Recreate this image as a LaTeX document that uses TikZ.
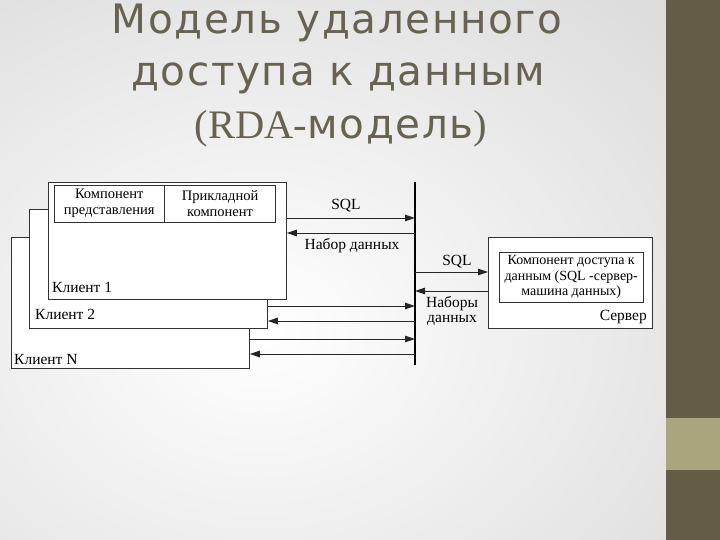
\documentclass[tikz,border=0pt]{standalone}
\usepackage{fontspec}
\setmainfont{Liberation Serif}
\newfontfamily\titlefont[LetterSpace=4]{DejaVu Sans}
\usetikzlibrary{arrows.meta, positioning}
\definecolor{titlegray}{RGB}{104,98,80}
\definecolor{bardark}{RGB}{99,93,72}
\definecolor{barlight}{RGB}{168,166,126}
\definecolor{bggray}{RGB}{212,212,212}
\tikzset{
  client/.style={rectangle, draw=black!80, fill=white, anchor=north west,
    inner sep=0pt, line width=0.8pt},
  cell/.style={rectangle, draw=black!80, fill=white, anchor=north west,
    inner sep=0pt, align=center, font=\fontsize{14.5}{16}\selectfont},
  boxtext/.style={inner sep=0pt, font=\fontsize{15.5}{16}\selectfont},
  titletext/.style={inner sep=0pt, text=titlegray, anchor=base,
    font=\titlefont\fontsize{40.5}{52}\selectfont},
  arrowline/.style={-{Triangle[length=10pt,width=6.5pt]}, draw=black!85, line width=0.9pt}
}
\begin{document}
\begin{tikzpicture}[x=1pt, y=-1pt]
  % slide background and side bar
  \useasboundingbox (0,0) rectangle (720,540);
  \begin{scope}
    \clip (0,0) rectangle (720,540);
    \shade[inner color=white, outer color=bggray] (-440,-220) rectangle (960,880);
  \end{scope}
  \fill[bardark] (666,0) rectangle (720,540);
  \fill[barlight] (666,418) rectangle (720,470);

  % title
  \node[titletext] (title1) at (337,34) {Модель удаленного};
  \node[titletext] (title2) at (338,86) {доступа к данным};
  \node[titletext] (title3) at (341,139) {{\rmfamily(RDA-}модель{\rmfamily)}};

  % clients, back to front
  \node[client, minimum width=238pt, minimum height=131pt] (clientN) at (11,237) {};
  \node[client, minimum width=238pt, minimum height=119pt] (client2) at (29,209) {};
  \node[client, minimum width=238pt, minimum height=117pt] (client1) at (48,182) {};
  \node[cell, minimum width=110pt, minimum height=37pt] (present) at (54,185) {Компонент\\представления};
  \node[cell, minimum width=111pt, minimum height=37pt, right=0pt of present] (applied) {Прикладной\\компонент};
  \node[boxtext, anchor=base west] (lbl1) at (52,292) {Клиент 1};
  \node[boxtext, anchor=base west] (lbl2) at (35,319) {Клиент 2};
  \node[boxtext, anchor=base west] (lblN) at (14,364) {Клиент N};

  % network line
  \coordinate (bustop) at (415,182);
  \coordinate (busbot) at (415,365);
  \draw[line width=1.6pt] (bustop) -- (busbot);

  % server
  \node[client, minimum width=164pt, minimum height=91pt] (server) at (488,237) {};
  \node[cell, minimum width=144pt, minimum height=50pt, font=\fontsize{14}{15.5}\selectfont] (access) at (499,252) {Компонент доступа к\\данным (SQL -сервер-\\машина данных)};
  \node[boxtext, anchor=base east] (srvlbl) at (647,320) {Сервер};

  % requests and replies
  \draw[arrowline] (client1.east |- 0,218) -- (bustop |- 0,218);
  \draw[arrowline] (bustop |- 0,233) -- (client1.east |- 0,233);
  \draw[arrowline] (client2.east |- 0,306) -- (bustop |- 0,306);
  \draw[arrowline] (bustop |- 0,321) -- (client2.east |- 0,321);
  \draw[arrowline] (clientN.east |- 0,339) -- (bustop |- 0,339);
  \draw[arrowline] (bustop |- 0,354) -- (clientN.east |- 0,354);
  \draw[arrowline] (bustop |- 0,272) -- (server.west |- 0,272);
  \draw[arrowline] (server.west |- 0,291) -- (bustop |- 0,291);

  \node[boxtext, anchor=base] (sql1) at (346,210) {SQL};
  \node[boxtext, anchor=base] (set1) at (352,249) {Набор данных};
  \node[boxtext, anchor=base] (sql2) at (457,265) {SQL};
  \node[boxtext, anchor=base] (sets2) at (452,307) {Наборы};
  \node[boxtext, anchor=base] (sets2b) at (452,322) {данных};
\end{tikzpicture}
\end{document}
